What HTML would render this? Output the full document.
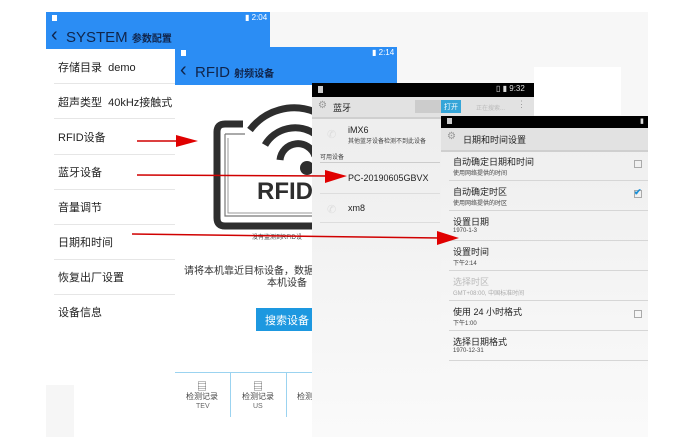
<!DOCTYPE html>
<html><head><meta charset="utf-8"><style>
*{margin:0;padding:0;box-sizing:border-box}
body{width:691px;height:437px;background:#fff;position:relative;overflow:hidden;font-family:"Liberation Sans","Noto Sans CJK SC",sans-serif;color:#222}
.a{position:absolute}
.blue{background:#2b8df4}
.t{position:absolute;white-space:nowrap}
.hl{position:absolute;height:1px;background:#e6e6e6}
.gl{position:absolute;height:1px;background:#d6d6d6}
</style></head><body>
<div class="a" style="left:270px;top:12px;width:378px;height:425px;background:#f7f7f7"></div>
<div class="a" style="left:534px;top:67px;width:87px;height:48px;background:#fff"></div>

<!-- Screen 1 -->
<div class="a" style="left:46px;top:12px;width:224px;height:425px;background:#fff"></div>
<div class="a" style="left:46px;top:385px;width:28px;height:52px;background:#f6f6f6"></div>
<div class="a blue" style="left:46px;top:12px;width:224px;height:37px"></div>
<div class="a" style="left:52px;top:15px;width:5px;height:6px;background:#fff"></div>
<div class="t" style="left:245px;top:13px;font-size:8px;color:#fff">▮ 2:04</div>
<div class="t" style="left:51px;top:24px;font-size:20px;color:#10244a">‹</div>
<div class="t" style="left:66px;top:29px;font-size:15px;color:#10244a">SYSTEM <span style="font-size:10px;font-weight:bold">参数配置</span></div>
<div class="t" style="left:58px;top:59px;font-size:11px">存储目录 &nbsp;demo</div>
<div class="hl" style="left:54px;top:83px;width:121px"></div>
<div class="t" style="left:58px;top:94px;font-size:11px">超声类型 &nbsp;40kHz接触式</div>
<div class="hl" style="left:54px;top:118px;width:121px"></div>
<div class="t" style="left:58px;top:129px;font-size:11px">RFID设备</div>
<div class="hl" style="left:54px;top:154px;width:121px"></div>
<div class="t" style="left:58px;top:164px;font-size:11px">蓝牙设备</div>
<div class="hl" style="left:54px;top:189px;width:121px"></div>
<div class="t" style="left:58px;top:199px;font-size:11px">音量调节</div>
<div class="hl" style="left:54px;top:224px;width:121px"></div>
<div class="t" style="left:58px;top:234px;font-size:11px">日期和时间</div>
<div class="hl" style="left:54px;top:259px;width:121px"></div>
<div class="t" style="left:58px;top:269px;font-size:11px">恢复出厂设置</div>
<div class="hl" style="left:54px;top:294px;width:121px"></div>
<div class="t" style="left:58px;top:304px;font-size:11px">设备信息</div>

<!-- Screen 2 -->
<div class="a" style="left:175px;top:47px;width:222px;height:390px;background:#fff"></div>
<div class="a blue" style="left:175px;top:47px;width:222px;height:38px"></div>
<div class="a" style="left:181px;top:50px;width:5px;height:6px;background:#fff"></div>
<div class="t" style="left:372px;top:48px;font-size:8px;color:#fff">▮ 2:14</div>
<div class="t" style="left:180px;top:59px;font-size:20px;color:#10244a">‹</div>
<div class="t" style="left:195px;top:64px;font-size:15px;color:#10244a">RFID <span style="font-size:10px;font-weight:bold">射频设备</span></div>
<svg class="a" style="left:205px;top:100px" width="110" height="130" viewBox="0 0 110 130">
 <path d="M38 24 H20 Q12 24 12 32 V118 Q12 126 20 126 H110" fill="none" stroke="#2e2e2e" stroke-width="7"/>
 <path d="M20 34 H40 M20 34 V116 H108" fill="none" stroke="#777" stroke-width="1.2"/>
 <path d="M23 38 V113 H108" fill="none" stroke="#999" stroke-width="1"/>
 <path d="M45 30 A55 55 0 0 1 110 12" fill="none" stroke="#2e2e2e" stroke-width="7"/>
 <path d="M60 45 A35 35 0 0 1 110 34" fill="none" stroke="#2e2e2e" stroke-width="7"/>
 <path d="M75 60 A18 18 0 0 1 110 56" fill="none" stroke="#2e2e2e" stroke-width="7"/>
 <circle cx="102" cy="68" r="7" fill="#2e2e2e"/>
 <text x="52" y="99" font-family="Liberation Sans" font-weight="bold" font-size="24" fill="#2e2e2e">RFID</text>
</svg>
<div class="t" style="left:252px;top:232px;font-size:6px;color:#444">没有监测到RFID设</div>
<div class="t" style="left:184px;top:262px;font-size:10px;color:#333">请将本机靠近目标设备，数据读</div>
<div class="t" style="left:267px;top:274px;font-size:10px;color:#333">本机设备</div>
<div class="a" style="left:256px;top:308px;width:60px;height:23px;background:#1d98e0"></div>
<div class="t" style="left:265px;top:312px;font-size:11px;color:#fff">搜索设备</div>
<div class="a" style="left:175px;top:372px;width:140px;height:1px;background:#9bd3f0"></div>
<div class="a" style="left:230px;top:372px;width:1px;height:45px;background:#9bd3f0"></div>
<div class="a" style="left:286px;top:372px;width:1px;height:45px;background:#9bd3f0"></div>
<div class="t" style="left:197px;top:378px;font-size:10px;color:#555">▤</div>
<div class="t" style="left:186px;top:391px;font-size:8px;color:#444">检测记录</div>
<div class="t" style="left:196px;top:403px;font-size:7px;color:#666">TEV</div>
<div class="t" style="left:253px;top:378px;font-size:10px;color:#555">▤</div>
<div class="t" style="left:242px;top:391px;font-size:8px;color:#444">检测记录</div>
<div class="t" style="left:253px;top:403px;font-size:7px;color:#666">US</div>
<div class="t" style="left:297px;top:391px;font-size:8px;color:#444">检测</div>

<!-- Screen 3 -->
<div class="a" style="left:312px;top:83px;width:222px;height:354px;background:linear-gradient(#ececec,#fafafa)"></div>
<div class="a" style="left:312px;top:83px;width:222px;height:14px;background:#000"></div>
<div class="a" style="left:318px;top:86px;width:5px;height:7px;background:#ccc"></div>
<div class="t" style="left:496px;top:84px;font-size:8px;color:#ddd">▯ ▮ 9:32</div>
<div class="a" style="left:312px;top:97px;width:222px;height:20px;background:#e2e2e2"></div>
<div class="t" style="left:318px;top:100px;font-size:10px;color:#999">⚙</div>
<div class="t" style="left:333px;top:101px;font-size:9px">蓝牙</div>
<div class="a" style="left:415px;top:100px;width:46px;height:13px;background:#ccc"></div>
<div class="a" style="left:441px;top:100px;width:20px;height:13px;background:#35a5d8"></div>
<div class="t" style="left:444px;top:102px;font-size:7px;color:#fff">打开</div>
<div class="t" style="left:476px;top:103px;font-size:6px;color:#bbb">正在搜索...</div>
<div class="t" style="left:517px;top:99px;font-size:9px;color:#999">⋮</div>
<div class="a" style="left:312px;top:117px;width:222px;height:2px;background:#cfcfcf"></div>
<div class="t" style="left:327px;top:128px;font-size:11px;color:#ddd">✆</div>
<div class="t" style="left:348px;top:125px;font-size:9px">iMX6</div>
<div class="t" style="left:348px;top:136px;font-size:6px;color:#444">其他蓝牙设备检测不到此设备</div>
<div class="t" style="left:320px;top:152px;font-size:6px;color:#444">可用设备</div>
<div class="gl" style="left:320px;top:162px;width:120px;background:#ccc"></div>
<div class="t" style="left:348px;top:173px;font-size:9px">PC-20190605GBVX</div>
<div class="hl" style="left:320px;top:193px;width:120px;background:#ddd"></div>
<div class="t" style="left:327px;top:203px;font-size:11px;color:#ddd">✆</div>
<div class="t" style="left:348px;top:203px;font-size:9px">xm8</div>
<div class="hl" style="left:320px;top:222px;width:120px;background:#ddd"></div>

<!-- Screen 4 -->
<div class="a" style="left:441px;top:116px;width:207px;height:321px;background:linear-gradient(#eeeeee,#fafafa)"></div>
<div class="a" style="left:441px;top:116px;width:207px;height:12px;background:#000"></div>
<div class="a" style="left:447px;top:118px;width:5px;height:6px;background:#ccc"></div>
<div class="t" style="left:640px;top:117px;font-size:7px;color:#ddd">▮</div>
<div class="a" style="left:441px;top:128px;width:207px;height:22px;background:#e2e2e2"></div>
<div class="t" style="left:447px;top:131px;font-size:10px;color:#999">⚙</div>
<div class="t" style="left:463px;top:133px;font-size:9px">日期和时间设置</div>
<div class="a" style="left:441px;top:150px;width:207px;height:2px;background:#cfcfcf"></div>

<div class="t" style="left:453px;top:155px;font-size:9px">自动确定日期和时间</div>
<div class="t" style="left:453px;top:168px;font-size:6px;color:#444">使用网络提供的时间</div>
<div class="a" style="left:634px;top:160px;width:8px;height:8px;border:1px solid #aaa"></div>
<div class="gl" style="left:449px;top:180px;width:199px"></div>
<div class="t" style="left:453px;top:185px;font-size:9px">自动确定时区</div>
<div class="t" style="left:453px;top:198px;font-size:6px;color:#444">使用网络提供的时区</div>
<div class="a" style="left:634px;top:190px;width:8px;height:8px;border:1px solid #aaa"></div>
<div class="t" style="left:634px;top:187px;font-size:9px;color:#1a8fd6;font-weight:bold">✔</div>
<div class="gl" style="left:449px;top:210px;width:199px"></div>
<div class="t" style="left:453px;top:215px;font-size:9px">设置日期</div>
<div class="t" style="left:453px;top:228px;font-size:6px;color:#444">1970-1-3</div>
<div class="gl" style="left:449px;top:240px;width:199px"></div>
<div class="t" style="left:453px;top:245px;font-size:9px">设置时间</div>
<div class="t" style="left:453px;top:258px;font-size:6px;color:#444">下午2:14</div>
<div class="gl" style="left:449px;top:270px;width:199px"></div>
<div class="t" style="left:453px;top:275px;font-size:9px;color:#bbb">选择时区</div>
<div class="t" style="left:453px;top:288px;font-size:6px;color:#aaa">GMT+08:00, 中国标准时间</div>
<div class="gl" style="left:449px;top:300px;width:199px"></div>
<div class="t" style="left:453px;top:305px;font-size:9px">使用 24 小时格式</div>
<div class="t" style="left:453px;top:318px;font-size:6px;color:#444">下午1:00</div>
<div class="a" style="left:634px;top:310px;width:8px;height:8px;border:1px solid #aaa"></div>
<div class="gl" style="left:449px;top:330px;width:199px"></div>
<div class="t" style="left:453px;top:335px;font-size:9px">选择日期格式</div>
<div class="t" style="left:453px;top:348px;font-size:6px;color:#444">1970-12-31</div>
<div class="gl" style="left:449px;top:360px;width:199px"></div>

<svg class="a" style="left:0;top:0" width="691" height="437">
 <g fill="#e00000" stroke="#d00000">
  <line x1="137" y1="141" x2="180" y2="141" stroke-width="1.5"/>
  <polygon points="176,135 198,141 176,147" stroke="none"/>
  <line x1="137" y1="175" x2="330" y2="176" stroke-width="1.5"/>
  <polygon points="325,170 347,176 325,183" stroke="none"/>
  <line x1="132" y1="234" x2="440" y2="238" stroke-width="1.5"/>
  <polygon points="437,231 459,238 437,245" stroke="none"/>
 </g>
</svg>
</body></html>
